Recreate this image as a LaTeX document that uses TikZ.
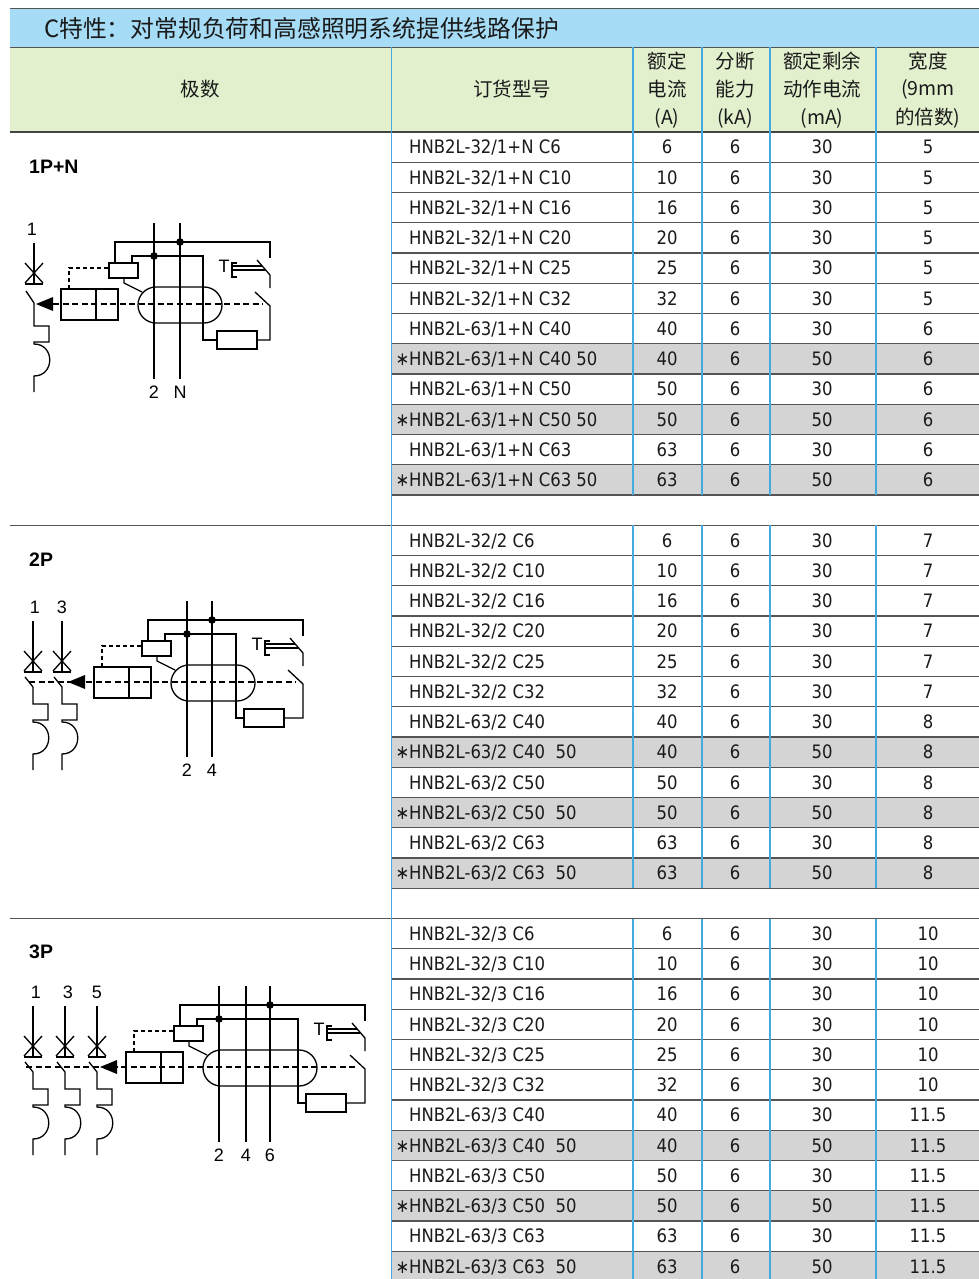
\documentclass[tikz,border=0pt]{standalone}
\usepackage{fontspec}
\setmainfont{Liberation Sans}
\newfontfamily\cjk{Noto Sans CJK SC}
\newfontfamily\tf{DejaVu Sans}[FakeStretch=0.89]
\definecolor{titlebg}{HTML}{A6DCF5}
\definecolor{headbg}{HTML}{E2F0CD}
\definecolor{rowgray}{HTML}{D4D4D4}
\definecolor{bluel}{HTML}{46AAE1}
\definecolor{rowline}{HTML}{555555}
\definecolor{txt}{HTML}{1A1A1A}
\tikzset{
  mdl/.style={anchor=base west, inner sep=0pt, font=\tf\fontsize{18.5}{20}\selectfont, text=txt},
  numb/.style={anchor=base, inner sep=0pt, font=\tf\fontsize{18.5}{20}\selectfont, text=txt},
  hd/.style={inner sep=0pt, font=\cjk\fontsize{19.5}{21}\selectfont, text=txt},
  lbl/.style={inner sep=0pt, font=\fontsize{18}{19}\selectfont},
  grp/.style={anchor=west, inner sep=0pt, font=\bfseries\fontsize{19.5}{21}\selectfont},
  dlink/.style={dash pattern=on 4pt off 3pt},
  dmain/.style={dash pattern=on 6pt off 3.5pt},
  wire/.style={line width=1.3pt},
  bline/.style={draw=bluel, line width=1.1pt},
  rline/.style={draw=rowline, line width=1.2pt},
}
\def\rh{30.25}
\newcommand\trow[5]{%
  \node[mdl] at (409,{132+(#1+0.5)*\rh+6.8}) {#2};
  \node[numb] at (667,{132+(#1+0.5)*\rh+6.8}) {#3};
  \node[numb] at (735,{132+(#1+0.5)*\rh+6.8}) {6};
  \node[numb] at (822,{132+(#1+0.5)*\rh+6.8}) {#4};
  \node[numb] at (928,{132+(#1+0.5)*\rh+6.8}) {#5};}
\newcommand\srow[5]{\trow{#1}{#2}{#3}{#4}{#5}%
  \node[numb,anchor=base east] at (409.5,{132+(#1+0.5)*\rh+6.8}) {∗};}
% residual current unit: #1 left shift, #2 right shift, #3 resistor shift
\newcommand\rcdbody[3]{%
  \draw ({61+#1},289) rectangle ({118+#1},320);
  \draw ({96+#1},289) -- ({96+#1},320);
  \draw[dlink] ({69+#1},289) -- ({69+#1},268) -- ({109+#1},268);
  \draw ({109+#1},263) rectangle ({138+#1},278);
  \draw ({124+#1},278) -- ({124+#1},283) -- ({142+#1},292);
  \draw ({115+#1},263) -- ({115+#1},242) -- ({270+#2},242) -- ({270+#2},258);
  \draw ({132+#1},263) -- ({132+#1},256) -- ({203+#2},256) -- ({203+#2},340) -- ({217+#3},340);
  \draw ({217+#3},331) rectangle ({257+#3},349);
  \draw ({257+#3},340) -- ({270+#2},340) -- ({270+#2},306) -- ({255+#2},292);
  \draw ({257+#2},260) -- ({270+#2},275) -- ({270+#2},288);
  \draw ({237+#2},263) -- ({232+#2},263) -- ({232+#2},277) -- ({237+#2},277);
  \draw ({232+#2},266) -- ({262+#2},266) ({232+#2},270) -- ({265+#2},270);
  \node[lbl] at ({224+#2},266) {T};
  \draw[rounded corners=18pt] ({138+#1},287) rectangle ({222+#2},323);}
% miniature breaker pole: #1 x, #2 bar y, #3/#4 blade ends
\newcommand\mcbpole[4]{%
  \draw (#1,243) -- (#1,#2);
  \draw ({#1-9},{#2-21}) -- ({#1+9},{#2-1}) ({#1+9},{#2-21}) -- ({#1-9},{#2-1});
  \draw ({#1-9},#2) -- ({#1+9},#2);
  \draw ({#1-8},#3) -- (#1,#4) -- (#1,326) -- ({#1+15},326) -- ({#1+15},342) -- (#1,342) -- (#1,344)
     .. controls ({#1+21},344) and ({#1+21},376) .. (#1,376) -- (#1,392);}
\begin{document}
\begin{tikzpicture}[x=1pt,y=-1pt]
\useasboundingbox (0,0) rectangle (979,1279);
\fill[white] (0,0) rectangle (979,1279);
% backgrounds
\fill[titlebg] (10,8) rectangle (979,47);
\fill[headbg] (10,47) rectangle (979,132);
\foreach \k in {7,9,11,20,22,24,33,35,37}
  \fill[rowgray] (391.5,{132+\k*\rh}) rectangle (979,{132+(\k+1)*\rh});
% horizontal lines
\draw[rline] (10,8.5) -- (979,8.5);
\draw[rline, line width=0.8pt] (10,47) -- (979,47);
\draw[draw=rowline!80!black, line width=2.2pt] (10,132) -- (979,132);
\foreach \k in {1,...,12,14,15,...,25,27,28,...,37}
  \draw[rline] (391.5,{132+\k*\rh}) -- (979,{132+\k*\rh});
\foreach \k in {13,26}
  \draw[rline] (10,{132+\k*\rh}) -- (979,{132+\k*\rh});
% vertical lines
\draw[bline] (391.5,47) -- (391.5,1279);
\foreach \x in {633,702,770,876}{
  \draw[bline] (\x,47) -- (\x,{132+12*\rh});
  \draw[bline] (\x,{132+13*\rh}) -- (\x,{132+25*\rh});
  \draw[bline] (\x,{132+26*\rh}) -- (\x,1279);}
% title and header
\node[anchor=west, inner sep=0pt, font=\cjk\fontsize{23.8}{25}\selectfont, text=txt] (title) at (44,28) {C特性：对常规负荷和高感照明系统提供线路保护};
\node[hd] (h1) at (200,89) {极数};
\node[hd] (h2) at (512,89) {订货型号};
\node[hd] at (667,61) {额定};
\node[hd] at (667,89) {电流};
\node[hd] at (667,118) {(A)};
\node[hd] at (735,61) {分断};
\node[hd] at (735,89) {能力};
\node[hd] at (735,118) {(kA)};
\node[hd] at (822,61) {额定剩余};
\node[hd] at (822,89) {动作电流};
\node[hd] at (822,118) {(mA)};
\node[hd] at (928,61) {宽度};
\node[hd] at (928,89) {(9mm};
\node[hd] at (928,118) {的倍数)};
% data rows
\trow{0}{HNB2L-32/1+N C6}{6}{30}{5}
\trow{1}{HNB2L-32/1+N C10}{10}{30}{5}
\trow{2}{HNB2L-32/1+N C16}{16}{30}{5}
\trow{3}{HNB2L-32/1+N C20}{20}{30}{5}
\trow{4}{HNB2L-32/1+N C25}{25}{30}{5}
\trow{5}{HNB2L-32/1+N C32}{32}{30}{5}
\trow{6}{HNB2L-63/1+N C40}{40}{30}{6}
\srow{7}{HNB2L-63/1+N C40 50}{40}{50}{6}
\trow{8}{HNB2L-63/1+N C50}{50}{30}{6}
\srow{9}{HNB2L-63/1+N C50 50}{50}{50}{6}
\trow{10}{HNB2L-63/1+N C63}{63}{30}{6}
\srow{11}{HNB2L-63/1+N C63 50}{63}{50}{6}
\trow{13}{HNB2L-32/2 C6}{6}{30}{7}
\trow{14}{HNB2L-32/2 C10}{10}{30}{7}
\trow{15}{HNB2L-32/2 C16}{16}{30}{7}
\trow{16}{HNB2L-32/2 C20}{20}{30}{7}
\trow{17}{HNB2L-32/2 C25}{25}{30}{7}
\trow{18}{HNB2L-32/2 C32}{32}{30}{7}
\trow{19}{HNB2L-63/2 C40}{40}{30}{8}
\srow{20}{HNB2L-63/2 C40\ \ 50}{40}{50}{8}
\trow{21}{HNB2L-63/2 C50}{50}{30}{8}
\srow{22}{HNB2L-63/2 C50\ \ 50}{50}{50}{8}
\trow{23}{HNB2L-63/2 C63}{63}{30}{8}
\srow{24}{HNB2L-63/2 C63\ \ 50}{63}{50}{8}
\trow{26}{HNB2L-32/3 C6}{6}{30}{10}
\trow{27}{HNB2L-32/3 C10}{10}{30}{10}
\trow{28}{HNB2L-32/3 C16}{16}{30}{10}
\trow{29}{HNB2L-32/3 C20}{20}{30}{10}
\trow{30}{HNB2L-32/3 C25}{25}{30}{10}
\trow{31}{HNB2L-32/3 C32}{32}{30}{10}
\trow{32}{HNB2L-63/3 C40}{40}{30}{11.5}
\srow{33}{HNB2L-63/3 C40\ \ 50}{40}{50}{11.5}
\trow{34}{HNB2L-63/3 C50}{50}{30}{11.5}
\srow{35}{HNB2L-63/3 C50\ \ 50}{50}{50}{11.5}
\trow{36}{HNB2L-63/3 C63}{63}{30}{11.5}
\srow{37}{HNB2L-63/3 C63\ \ 50}{63}{50}{11.5}
% group labels
\node[grp] (g1) at (29,167) {1P+N};
\node[grp] (g2) at (29,560) {2P};
\node[grp] (g3) at (29,952) {3P};
% ---------- diagram 1P+N ----------
\begin{scope}[wire]
\rcdbody{0}{0}{0}
\mcbpole{34}{284}{291}{303}
\fill (36,304) -- (53,297) -- (53,311) -- cycle;
\draw[dmain] (53,304) -- (263,304);
\draw (154,223) -- (154,379) (180,223) -- (180,379);
\fill (154,256) circle (3.8pt) (180,242) circle (3.8pt);
\node[lbl] at (32,229) {1};
\node[lbl] at (154,392) {2};
\node[lbl] at (180,392) {N};
\end{scope}
% ---------- diagram 2P ----------
\begin{scope}[wire, shift={(0,378)}]
\rcdbody{33}{33}{27}
\mcbpole{33}{294}{299}{309}
\mcbpole{62}{294}{299}{309}
\fill (68,304) -- (85,297) -- (85,311) -- cycle;
\draw[dmain] (29,304) -- (296,304);
\draw (187,223) -- (187,379) (212,223) -- (212,379);
\fill (187,256) circle (3.8pt) (212,242) circle (3.8pt);
\node[lbl] at (35,229) {1};
\node[lbl] at (62,229) {3};
\node[lbl] at (187,392) {2};
\node[lbl] at (212,392) {4};
\end{scope}
% ---------- diagram 3P ----------
\begin{scope}[wire, shift={(0,763)}]
\rcdbody{65}{95}{89}
\mcbpole{33}{294}{299}{309}
\mcbpole{65}{294}{299}{309}
\mcbpole{97}{294}{299}{309}
\fill (100,304) -- (117,297) -- (117,311) -- cycle;
\draw[dmain] (26,304) -- (358,304);
\draw (219,223) -- (219,379) (246,223) -- (246,379) (270,223) -- (270,379);
\fill (219,256) circle (3.8pt) (270,242) circle (3.8pt);
\node[lbl] at (36,229) {1};
\node[lbl] at (68,229) {3};
\node[lbl] at (97,229) {5};
\node[lbl] at (219,392) {2};
\node[lbl] at (246,392) {4};
\node[lbl] at (270,392) {6};
\end{scope}
\end{tikzpicture}
\end{document}
